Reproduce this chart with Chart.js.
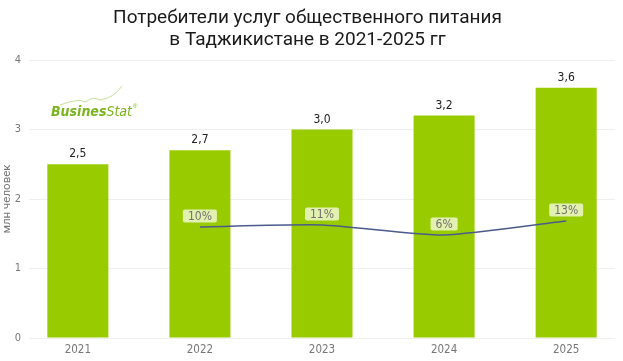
<!DOCTYPE html>
<html>
<head>
<meta charset="utf-8">
<script src="https://cdn.jsdelivr.net/npm/chart.js@4"></script>
<style>
  html, body { margin: 0; padding: 0; background: #fff; }
  #wrap { width: 623px; height: 361px; }
</style>
</head>
<body>
<div id="wrap"><canvas id="mainChart" width="623" height="361"></canvas></div>
<script>
// данные графика
const years = [2021, 2022, 2023, 2024, 2025];
const consumers = [2.5, 2.7, 3.0, 3.2, 3.6];
const growth = [null, 10, 11, 6, 13];
const yTicks = [0, 1, 2, 3, 4];

const narrow = "'Liberation Sans Narrow', 'DejaVu Sans Condensed', sans-serif";

// подписи значений и логотип
const labelsPlugin = {
  id: 'labels',
  afterDatasetsDraw(chart) {
    const ctx = chart.ctx;
    ctx.save();
    // значения над столбцами
    const bars = chart.getDatasetMeta(0).data;
    ctx.font = '12px ' + narrow;
    ctx.fillStyle = '#222';
    ctx.textAlign = 'center';
    ctx.textBaseline = 'middle';
    bars.forEach((b, i) => {
      ctx.fillText(consumers[i].toFixed(1).replace('.', ','), b.x, b.y - 10);
    });
    // проценты на линии
    const pts = chart.getDatasetMeta(1).data;
    ctx.font = '12px ' + narrow;
    pts.forEach((p, i) => {
      if (growth[i] == null) return;
      const txt = growth[i] + '%';
      const w = ctx.measureText(txt).width + 10;
      const cy = p.y - 11;
      ctx.fillStyle = 'rgba(230,241,185,0.95)';
      ctx.beginPath();
      ctx.roundRect(p.x - w / 2, cy - 6.5, w, 13, 2);
      ctx.fill();
      ctx.fillStyle = '#707070';
      ctx.fillText(txt, p.x, cy + 0.5);
    });
    // логотип
    ctx.textAlign = 'left';
    ctx.font = 'italic bold 14px ' + narrow;
    ctx.fillStyle = '#7ab51d';
    ctx.fillText('Busines', 51, 112);
    const bw = ctx.measureText('Busines').width;
    ctx.font = 'italic 14px ' + narrow;
    ctx.fillText('Stat', 51 + bw, 112);
    const sw = ctx.measureText('Stat').width;
    ctx.font = '6px sans-serif';
    ctx.fillText('®', 51 + bw + sw + 1, 106);
    ctx.strokeStyle = '#b5d97c';
    ctx.lineWidth = 0.8;
    ctx.beginPath();
    ctx.moveTo(60, 105);
    ctx.quadraticCurveTo(78, 98, 86, 102);
    ctx.quadraticCurveTo(92, 96, 100, 100);
    ctx.quadraticCurveTo(114, 98, 122, 86);
    ctx.stroke();
    ctx.restore();
  },
};

new Chart(document.getElementById('mainChart'), {
  data: {
    datasets: [
      {
        type: 'bar',
        data: years.map((yr, i) => ({ x: yr, y: consumers[i] })),
        backgroundColor: '#99cc00',
        barPercentage: 0.5,
        categoryPercentage: 1,
        yAxisID: 'y',
        order: 2,
      },
      {
        type: 'line',
        data: years.map((yr, i) => ({ x: yr, y: growth[i] })),
        borderColor: '#4b5a8c',
        borderWidth: 1.5,
        pointRadius: 0,
        tension: 0.2,
        yAxisID: 'y1',
        order: 1,
      },
    ],
  },
  options: {
    responsive: false,
    animation: false,
    layout: { padding: { left: 0, right: 8, top: 0, bottom: 0 } },
    plugins: {
      legend: { display: false },
      tooltip: { enabled: false },
      title: {
        display: true,
        text: ['Потребители услуг общественного питания', 'в Таджикистане в 2021-2025 гг'],
        color: '#1a1a1a',
        font: { family: 'Roboto, sans-serif', size: 19, weight: 'normal', lineHeight: '22px' },
        padding: { top: 7, bottom: 9 },
      },
    },
    scales: {
      x: {
        type: 'linear',
        min: 2020.6,
        max: 2025.4,
        offset: false,
        bounds: 'data',
        afterBuildTicks: (axis) => { axis.ticks = years.map((v) => ({ value: v })); },
        afterFit: (axis) => { axis.height = 23; },
        grid: { display: false, drawTicks: false },
        border: { display: false },
        ticks: {
          color: '#777',
          font: { family: narrow, size: 11.5 },
          padding: 5,
          callback: (v) => String(v),
        },
      },
      y: {
        min: 0,
        max: 4,
        afterBuildTicks: (axis) => { axis.ticks = yTicks.map((v) => ({ value: v })); },
        afterFit: (axis) => { axis.width = 29; },
        grid: { color: '#efefef', drawTicks: false },
        border: { display: false },
        ticks: { color: '#777', font: { family: narrow, size: 11 }, padding: 8 },
        title: {
          display: true,
          text: 'млн человек',
          color: '#777',
          font: { family: 'Roboto, sans-serif', size: 11.5 },
          padding: { top: 0, bottom: 0 },
        },
      },
      y1: {
        display: false,
        min: -45.5,
        max: 93.5,
      },
    },
  },
  plugins: [labelsPlugin],
});
</script>
</body>
</html>
